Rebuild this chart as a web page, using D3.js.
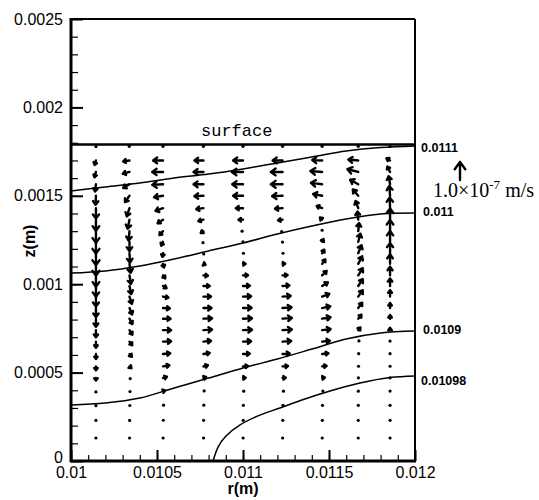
<!DOCTYPE html>
<html>
<head>
<meta charset="utf-8">
<script src="https://cdn.jsdelivr.net/npm/d3@7"></script>
<style>
  html, body { margin: 0; padding: 0; background: #fff; }
  svg { display: block; }
  .axis text { font-family: "Liberation Sans", Arial, sans-serif; font-size: 16px; fill: #000; }
  .axis line { stroke: #000; }
</style>
</head>
<body>
<svg id="chart" width="539" height="500"></svg>
<script>
// ── Data ────────────────────────────────────────────────────────────────
const R_TICKS = [0.01, 0.0105, 0.011, 0.0115, 0.012];
const R_TICK_LABELS = ['0.01', '0.0105', '0.011', '0.0115', '0.012'];
const Z_TICKS = [0, 0.0005, 0.001, 0.0015, 0.002, 0.0025];
const Z_TICK_LABELS = ['0', '0.0005', '0.001', '0.0015', '0.002', '0.0025'];
const SURFACE_Z = 0.00179;

// contour lines (r, z)
const CONTOUR_LEVELS = ['0.0111', '0.011', '0.0109', '0.01098'];
const GRID_R = [0.0100, 0.0102, 0.0104, 0.0106, 0.0108, 0.0110, 0.0112, 0.0114, 0.0116, 0.0118, 0.0120];
const C0111_Z = [0.001527, 0.00155, 0.001572, 0.001601, 0.001623, 0.001652, 0.001686, 0.001719, 0.001753, 0.001773, 0.001782];
const C011_Z = [0.001063, 0.001075, 0.001103, 0.001143, 0.001188, 0.001233, 0.001284, 0.001329, 0.001369, 0.001397, 0.001403];
const C0109_Z = [0.000317, 0.000328, 0.000356, 0.000413, 0.000469, 0.000526, 0.000577, 0.000633, 0.00069, 0.000724, 0.000735];
const C01098_R = [0.010826, 0.010855, 0.010901, 0.010983, 0.011087, 0.011215, 0.01136, 0.011506, 0.01168, 0.011855, 0.012];
const C01098_Z = [0, 0.000079, 0.000141, 0.000204, 0.000255, 0.0003, 0.000351, 0.000396, 0.000441, 0.000472, 0.000481];

// vector grid
const COL_R = [0.010145, 0.01034, 0.010535, 0.01077, 0.011, 0.01123, 0.01146, 0.01167, 0.011855];
const ROW_Z = [0.00178, 0.0017, 0.001635, 0.001565, 0.0015, 0.00143, 0.001365, 0.0013, 0.00124, 0.001175,
  0.001115, 0.00105, 0.00099, 0.00093, 0.000865, 0.000805, 0.00074, 0.000675, 0.000605, 0.000535,
  0.00047, 0.000395, 0.000315, 0.00023, 0.00013];

// velocity components per column, in units of 1e-7 m/s (top row first)
const U = [
  [0, -0.08, -0.08, -0.05, -0.02, 0, 0, 0, 0, 0, 0, 0, 0, 0, 0, 0, 0, 0, 0, 0, 0, 0, 0, 0, 0],
  [-0.02, -0.35, -0.37, -0.35, -0.25, -0.15, -0.1, -0.05, 0, 0.03, 0.06, 0.08, 0.1, 0.13, 0.15, 0.16, 0.16, 0.15, 0.13, 0.11, 0.08, 0.06, 0.04, 0.02, 0.01],
  [0, -0.55, -0.6, -0.6, -0.5, -0.42, -0.3, -0.2, -0.1, -0.03, 0.05, 0.12, 0.2, 0.3, 0.38, 0.42, 0.45, 0.45, 0.4, 0.35, 0.22, 0.12, 0.06, 0.03, 0.01],
  [0, -0.5, -0.55, -0.55, -0.5, -0.4, -0.28, -0.15, -0.05, 0.03, 0.12, 0.25, 0.35, 0.42, 0.45, 0.48, 0.48, 0.42, 0.35, 0.25, 0.15, 0.08, 0.04, 0.02, 0.01],
  [0, -0.55, -0.62, -0.6, -0.55, -0.4, -0.25, -0.1, 0, 0.05, 0.15, 0.28, 0.38, 0.45, 0.48, 0.5, 0.5, 0.45, 0.38, 0.28, 0.15, 0.08, 0.04, 0.02, 0.01],
  [0, -0.55, -0.65, -0.65, -0.58, -0.42, -0.25, -0.1, 0, 0.05, 0.15, 0.28, 0.38, 0.45, 0.5, 0.52, 0.52, 0.48, 0.4, 0.3, 0.18, 0.1, 0.05, 0.02, 0.01],
  [0, -0.55, -0.65, -0.62, -0.5, -0.3, -0.12, 0, 0.08, 0.12, 0.18, 0.25, 0.32, 0.4, 0.45, 0.47, 0.47, 0.43, 0.35, 0.25, 0.15, 0.08, 0.04, 0.02, 0.01],
  [0, -0.55, -0.6, -0.45, -0.3, -0.15, -0.05, 0.05, 0.12, 0.18, 0.22, 0.25, 0.25, 0.25, 0.22, 0.18, 0.12, 0.08, 0.05, 0.03, 0.02, 0.01, 0.01, 0, 0],
  [0, -0.2, -0.15, -0.08, -0.04, -0.02, 0, 0, 0, 0, 0, 0, 0, 0, 0, 0, 0, 0, 0, 0, 0, 0, 0, 0, 0]
];
const W = [
  [-0.03, -0.25, -0.3, -0.4, -0.5, -0.58, -0.62, -0.65, -0.66, -0.66, -0.65, -0.63, -0.6, -0.56, -0.5, -0.45, -0.4, -0.34, -0.28, -0.22, -0.15, -0.09, -0.04, -0.01, 0],
  [0, -0.05, -0.1, -0.2, -0.35, -0.45, -0.5, -0.52, -0.52, -0.52, -0.5, -0.48, -0.45, -0.4, -0.35, -0.3, -0.25, -0.2, -0.15, -0.1, -0.07, -0.04, -0.02, -0.01, 0],
  [0, 0, 0, -0.03, -0.08, -0.15, -0.2, -0.22, -0.22, -0.2, -0.2, -0.17, -0.12, -0.06, -0.02, 0, 0, 0.02, 0.04, 0.06, 0.06, 0.04, 0.02, 0.01, 0],
  [0, 0, 0, 0, -0.02, -0.05, -0.08, -0.1, -0.1, -0.08, -0.05, -0.02, 0, 0, 0, 0.02, 0.03, 0.05, 0.06, 0.06, 0.05, 0.03, 0.01, 0, 0],
  [0, 0, 0, 0, 0, 0, 0, 0, 0, 0, 0, 0.01, 0.01, 0.02, 0.02, 0.02, 0.02, 0.02, 0.02, 0.02, 0.01, 0, 0, 0, 0],
  [0, 0, 0, 0, -0.02, -0.03, -0.04, -0.04, -0.03, 0, 0.01, 0.02, 0.03, 0.04, 0.04, 0.04, 0.04, 0.04, 0.03, 0.02, 0.01, 0, 0, 0, 0],
  [0, 0.02, 0.05, 0.08, 0.1, 0.12, 0.12, 0.1, 0.15, 0.2, 0.25, 0.25, 0.2, 0.15, 0.1, 0.08, 0.06, 0.05, 0.04, 0.03, 0.02, 0.01, 0, 0, 0],
  [0, 0.05, 0.15, 0.25, 0.35, 0.4, 0.45, 0.45, 0.45, 0.45, 0.42, 0.4, 0.38, 0.35, 0.3, 0.22, 0.15, 0.08, 0.04, 0.02, 0.01, 0, 0, 0, 0],
  [0, 0.12, 0.3, 0.45, 0.55, 0.6, 0.62, 0.62, 0.6, 0.57, 0.53, 0.48, 0.42, 0.36, 0.28, 0.2, 0.13, 0.07, 0.04, 0.02, 0.01, 0.01, 0, 0, 0]
];
const REF_VECTOR = 1.0; // 1.0e-7 m/s

// ── Layout ──────────────────────────────────────────────────────────────
const svg = d3.select('#chart');
const x = d3.scaleLinear().domain([0.01, 0.012]).range([71, 415]);
const y = d3.scaleLinear().domain([0, 0.0025]).range([461, 19]);
const vLen = d3.scaleLinear().domain([0, 1]).range([0, 18]); // px per 1e-7 m/s

const minorR = d3.range(100, 121).map(d => d / 10000);
const minorZ = d3.range(0, 26).map(d => d / 10000);

// minor ticks
svg.append('g').attr('class', 'axis')
  .attr('transform', 'translate(0,461)')
  .call(d3.axisBottom(x).tickValues(minorR).tickSize(-6).tickSizeOuter(0).tickFormat(''))
  .call(ax => ax.select('.domain').remove())
  .call(ax => ax.selectAll('line').attr('stroke-width', 1.2));
svg.append('g').attr('class', 'axis')
  .attr('transform', 'translate(71,0)')
  .call(d3.axisLeft(y).tickValues(minorZ).tickSize(-7).tickSizeOuter(0).tickFormat(''))
  .call(ax => ax.select('.domain').remove())
  .call(ax => ax.selectAll('line').attr('stroke-width', 1.2));

// major ticks + labels
svg.append('g').attr('class', 'axis')
  .attr('transform', 'translate(0,461)')
  .call(d3.axisBottom(x).tickValues(R_TICKS).tickSize(-11).tickSizeOuter(0).tickPadding(6)
    .tickFormat((d, i) => R_TICK_LABELS[i]))
  .call(ax => ax.select('.domain').remove())
  .call(ax => ax.selectAll('line').attr('stroke-width', 2));
svg.append('g').attr('class', 'axis')
  .attr('transform', 'translate(71,0)')
  .call(d3.axisLeft(y).tickValues(Z_TICKS).tickSize(-12).tickSizeOuter(0).tickPadding(8)
    .tickFormat((d, i) => Z_TICK_LABELS[i]))
  .call(ax => ax.select('.domain').remove())
  .call(ax => ax.selectAll('line').attr('stroke-width', 2))
  .call(ax => ax.selectAll('.tick text').filter(d => d === 0).attr('dy', '0.1em'));

// frame
svg.append('line').attr('x1', 415).attr('x2', 415).attr('y1', 19).attr('y2', 461)
  .attr('stroke', '#000').attr('stroke-width', 2);
svg.append('line').attr('x1', 71).attr('x2', 415).attr('y1', 19).attr('y2', 19)
  .attr('stroke', '#000').attr('stroke-width', 2);
svg.append('line').attr('x1', 71).attr('x2', 71).attr('y1', 18).attr('y2', 462)
  .attr('stroke', '#000').attr('stroke-width', 3);
svg.append('line').attr('x1', 70).attr('x2', 416).attr('y1', 461).attr('y2', 461)
  .attr('stroke', '#000').attr('stroke-width', 3);

// axis titles
svg.append('text')
  .attr('transform', 'translate(35,241) rotate(-90)')
  .attr('text-anchor', 'middle')
  .attr('font-family', '"Liberation Sans", Arial, sans-serif')
  .attr('font-size', 16).attr('font-weight', 700)
  .text('z(m)');
svg.append('text')
  .attr('x', 243).attr('y', 494)
  .attr('text-anchor', 'middle')
  .attr('font-family', '"Liberation Sans", Arial, sans-serif')
  .attr('font-size', 16).attr('font-weight', 700)
  .text('r(m)');

// surface
svg.append('line')
  .attr('x1', 71).attr('x2', 415)
  .attr('y1', y(SURFACE_Z)).attr('y2', y(SURFACE_Z))
  .attr('stroke', '#000').attr('stroke-width', 2.5);
svg.append('text')
  .attr('x', 201).attr('y', 136)
  .attr('font-family', '"Liberation Mono", "Courier New", monospace')
  .attr('font-size', 17)
  .text('surface');

// contours
const contours = [
  { r: GRID_R, z: C0111_Z },
  { r: GRID_R, z: C011_Z },
  { r: GRID_R, z: C0109_Z },
  { r: C01098_R, z: C01098_Z }
];
const LABEL_Y = [152, 216, 334, 385];
const line = d3.line()
  .x(d => x(d[0]))
  .y(d => y(d[1]))
  .curve(d3.curveCatmullRom);

contours.forEach((c, i) => {
  svg.append('path')
    .datum(c.r.map((r, j) => [r, c.z[j]]))
    .attr('fill', 'none')
    .attr('stroke', '#000')
    .attr('stroke-width', 1.5)
    .attr('d', line);
  svg.append('text')
    .attr('x', i === 0 || i === 3 ? 421 : 423)
    .attr('y', LABEL_Y[i])
    .attr('font-family', '"Liberation Sans", Arial, sans-serif')
    .attr('font-size', 12.5).attr('font-weight', 700)
    .text(CONTOUR_LEVELS[i]);
});

// vectors (tail at grid point)
const vg = svg.append('g');
function drawVector(x0, y0, dx, dy) {
  const len = Math.hypot(dx, dy);
  if (len < 2.2) {
    vg.append('circle').attr('cx', x0 + dx / 2).attr('cy', y0 + dy / 2)
      .attr('r', 1.6).attr('fill', '#000');
    return;
  }
  const x1 = x0 + dx, y1 = y0 + dy;
  const ang = Math.atan2(dy, dx);
  const h = Math.max(3, len * 0.5);
  const a = Math.PI / 5;
  const p = `M${x0},${y0}L${x1},${y1}` +
    `M${x1 - h * Math.cos(ang - a)},${y1 - h * Math.sin(ang - a)}L${x1},${y1}` +
    `L${x1 - h * Math.cos(ang + a)},${y1 - h * Math.sin(ang + a)}`;
  vg.append('path').attr('d', p)
    .attr('fill', 'none').attr('stroke', '#000')
    .attr('stroke-width', 2.4).attr('stroke-linecap', 'round').attr('stroke-linejoin', 'round');
}

COL_R.forEach((r, ci) => {
  ROW_Z.forEach((z, ri) => {
    drawVector(x(r), y(z), vLen(U[ci][ri]), -vLen(W[ci][ri]));
  });
});

// reference vector
drawVector(460, 180, 0, -vLen(REF_VECTOR));
const ref = svg.append('text')
  .attr('x', 433).attr('y', 197)
  .attr('font-family', '"Liberation Serif", "Times New Roman", serif')
  .attr('font-size', 20);
ref.append('tspan').text('1.0×10');
ref.append('tspan').attr('font-size', 13).attr('dy', -8).text('-7');
ref.append('tspan').attr('dy', 8).text(' m/s');
</script>
</body>
</html>
